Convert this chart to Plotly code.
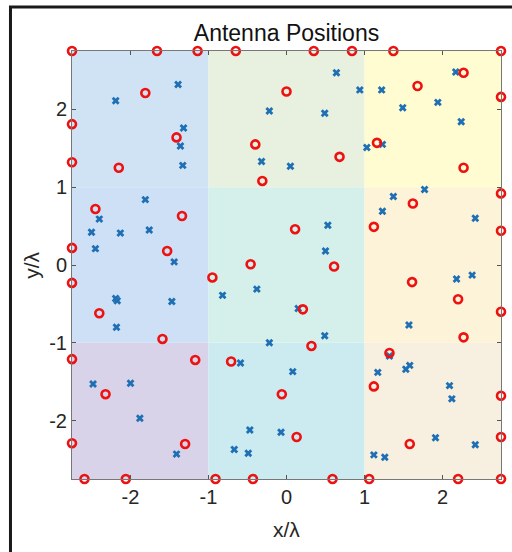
import plotly.graph_objects as go

# Element positions in wavelengths
edge_top_x = [-2.75, -1.66, -1.14, -0.65, 0.35, 0.84, 1.37, 2.75]
edge_bottom_x = [-2.59, -2.06, -0.91, -0.43, 0.59, 1.06, 2.20, 2.75]
edge_left_y = [1.81, 1.32, 0.22, -0.23, -1.21, -2.29]
edge_right_y = [2.16, 0.92, 0.44, -0.60, -1.68, -2.21]

inner_red_x = [-1.81, -1.41, -2.15, 0.00, -0.40, 0.68, -0.31, 2.27, 1.68, 1.16, 2.27,
               -2.45, -1.34, -1.53, -2.40, -1.59, -0.95, 0.11, -0.46, 0.61, 0.21, 0.32,
               1.62, 1.12, 1.61, 2.20, 2.27, 1.32, 1.12, 1.58, -1.17, -2.32, -1.30,
               -0.71, -0.06, 0.13]
inner_red_y = [2.21, 1.64, 1.25, 2.23, 1.55, 1.39, 1.08, 2.47, 2.30, 1.57, 1.25,
               0.72, 0.63, 0.18, -0.62, -0.95, -0.16, 0.46, 0.01, -0.02, -0.57, -1.04,
               0.79, 0.49, -0.22, -0.44, -0.93, -1.13, -1.56, -2.30, -1.22, -1.66, -2.30,
               -1.24, -1.66, -2.21]

blue_x = [-1.39, -2.19, -1.32, -1.36, -1.33,
          0.64, 0.94, -0.22, 0.49, 1.03, -0.32, 0.05,
          2.17, 1.22, 1.94, 1.49, 2.24, 1.23,
          1.77, 1.37, 1.23, 2.42, 2.18, 2.38, 1.57,
          -1.81, -2.40, -2.50, -2.13, -1.76, -2.45, -1.44, -2.19, -2.17, -1.47, -2.18,
          0.53, 0.50, -0.38, -0.82, 0.15, 0.49, -0.22,
          1.32, 1.17, 1.53, 1.58, 2.09, 2.12, 1.91, 2.42, 1.12, 1.26,
          -2.48, -2.00, -1.88, -1.41,
          -0.59, 0.08, -0.47, -0.07, -0.67, -0.49]
blue_y = [2.32, 2.11, 1.76, 1.53, 1.28,
          2.47, 2.25, 1.98, 1.95, 1.51, 1.33, 1.27,
          2.48, 2.25, 2.09, 2.02, 1.84, 1.55,
          0.97, 0.88, 0.69, 0.60, -0.18, -0.13, -0.77,
          0.84, 0.59, 0.42, 0.41, 0.45, 0.21, 0.04, -0.43, -0.46, -0.47, -0.80,
          0.51, 0.18, -0.31, -0.39, -0.56, -0.91, -1.00,
          -1.17, -1.38, -1.34, -1.29, -1.55, -1.72, -2.22, -2.31, -2.44, -2.47,
          -1.53, -1.52, -1.97, -2.43,
          -1.26, -1.37, -2.12, -2.15, -2.37, -2.42]

half = 2.75
ticks = [-2, -1, 0, 1, 2]
tick_text = ["-2", "-1", "0", "1", "2"]

# 3x3 sub-array regions (x0, x1, y0, y1, fill)
region_edges = [-half, -1, 1, half]
region_colors = [
    ["#d8d3e8", "#cbebf1", "#f7efdf"],  # bottom row
    ["#cde0f6", "#d5f0ea", "#fdf3d8"],  # middle row
    ["#d0e3f4", "#e8f0e0", "#fffcd2"],  # top row
]

red_x = (edge_top_x + edge_bottom_x + [-half] * len(edge_left_y)
         + [half] * len(edge_right_y) + inner_red_x)
red_y = ([half] * len(edge_top_x) + [-half] * len(edge_bottom_x) + edge_left_y
         + edge_right_y + inner_red_y)

fig = go.Figure()
fig.add_trace(go.Scatter(
    x=blue_x, y=blue_y, mode="markers", cliponaxis=False,
    marker=dict(symbol="x", size=7, color="#1f6fb4", line=dict(width=0)),
    showlegend=False))
fig.add_trace(go.Scatter(
    x=red_x, y=red_y, mode="markers", cliponaxis=False,
    marker=dict(symbol="circle-open", size=8, color="#ee1111", line=dict(width=2.6)),
    showlegend=False))

shapes = []
for r in range(3):
    for c in range(3):
        shapes.append(dict(type="rect", xref="x", yref="y", layer="below",
                           x0=region_edges[c], x1=region_edges[c + 1],
                           y0=region_edges[r], y1=region_edges[r + 1],
                           fillcolor=region_colors[r][c], line=dict(width=0)))
# figure frame
shapes.append(dict(type="rect", xref="paper", yref="paper",
                   x0=-0.1434, x1=1.3, y0=-0.4, y1=1.1028,
                   line=dict(color="#1a1a1a", width=3), fillcolor="rgba(0,0,0,0)"))

font_family = "Arial, Liberation Sans, sans-serif"
axis_common = dict(
    range=[-half, half], tickvals=ticks, ticktext=tick_text,
    ticks="inside", ticklen=4, tickcolor="#555555", tickwidth=1,
    showline=True, linecolor="#777777", linewidth=1, mirror="ticks",
    showgrid=False, zeroline=False,
    tickfont=dict(family=font_family, size=20, color="#262626"),
)

fig.update_layout(
    width=512, height=552,
    margin=dict(l=72, r=11, t=51, b=73),
    paper_bgcolor="white", plot_bgcolor="white",
    xaxis=dict(**axis_common),
    yaxis=dict(**axis_common),
    shapes=shapes,
    title=dict(text="Antenna Positions", x=0.5, xref="paper", xanchor="center",
               y=1 - 33 / 552, yref="container", yanchor="middle",
               font=dict(family=font_family, size=23, color="#111111")),
    annotations=[
        dict(text="x/λ", xref="paper", yref="paper", x=0.5, y=-0.117,
             showarrow=False, xanchor="center", yanchor="middle",
             font=dict(family=font_family, size=21, color="#262626")),
        dict(text="y/λ", xref="paper", yref="paper", x=-0.096, y=0.5,
             showarrow=False, xanchor="center", yanchor="middle", textangle=-90,
             font=dict(family=font_family, size=21, color="#262626")),
    ],
)

fig.write_html("out.html")
